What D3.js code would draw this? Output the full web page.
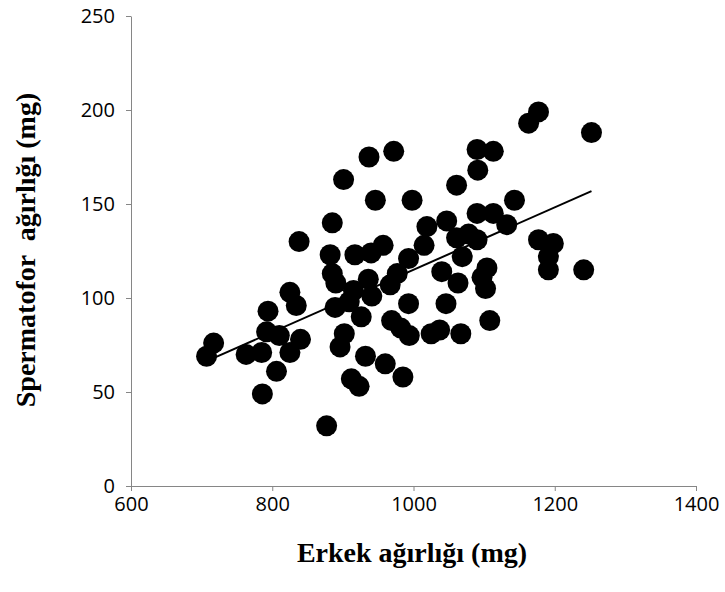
<!DOCTYPE html>
<html>
<head>
<meta charset="utf-8">
<script src="https://cdn.jsdelivr.net/npm/d3@7"></script>
<style>
  body { margin: 0; background: #fff; }
  .axis path, .axis line { stroke: #868686; }
  .axis text { font-family: "Open Sans", sans-serif; font-size: 20px; fill: #000; }
  .title { font-family: "Liberation Serif", "Times New Roman", serif; font-weight: bold; font-size: 28px; white-space: pre; }
</style>
</head>
<body>
<svg id="chart" width="725" height="592"></svg>
<script>
// male weight (mg) and spermatophore weight (mg)
var erkek = [707, 717, 763, 785, 792, 810, 840, 825, 794, 825, 834, 806, 786, 877,
    838, 885, 901, 937, 972, 946, 998, 882, 917, 940, 957, 885, 890, 889, 902, 896,
    915, 909, 936, 941, 926, 932, 960, 985, 912, 923, 977, 967, 993, 1019, 1015, 993,
    969, 982, 994, 1025, 1037, 1046, 1040, 1063, 1067, 1108, 1104, 1097, 1102, 1047,
    1061, 1090, 1113, 1091, 1090, 1113, 1132, 1143, 1061, 1078, 1090, 1069, 1163, 1177,
    1252, 1177, 1198, 1191, 1191, 1241];
var spermatofor = [69, 76, 70, 71, 82, 80, 78, 71, 93, 103, 96, 61, 49, 32,
    130, 140, 163, 175, 178, 152, 152, 123, 123, 124, 128, 113, 108, 95, 81, 74,
    104, 98, 110, 101, 90, 69, 65, 58, 57, 53, 113, 107, 121, 138, 128, 97,
    88, 84, 80, 81, 83, 97, 114, 108, 81, 88, 116, 111, 105, 141,
    160, 179, 178, 168, 145, 145, 139, 152, 132, 134, 131, 122, 193, 199,
    188, 131, 129, 122, 115, 115];
var xTicks = [600, 800, 1000, 1200, 1400];
var yTicks = [0, 50, 100, 150, 200, 250];

var points = erkek.map(function(d, i) { return {x: d, y: spermatofor[i]}; });

var svg = d3.select("#chart");
var padLeft = 131, padRight = 696, padTop = 16, padBottom = 486;

var xScale = d3.scaleLinear().domain([600, 1400]).range([padLeft, padRight]);
var yScale = d3.scaleLinear().domain([0, 250]).range([padBottom, padTop]);

var xAxis = d3.axisBottom(xScale).tickValues(xTicks).tickFormat(d3.format("d"))
    .tickSize(5).tickPadding(6).tickSizeOuter(0);
var yAxis = d3.axisLeft(yScale).tickValues(yTicks).tickFormat(d3.format("d"))
    .tickSize(5).tickPadding(11).tickSizeOuter(0);

//Create X axis
svg.append("g")
    .attr("class", "x axis")
    .attr("transform", "translate(0," + padBottom + ")")
    .call(xAxis);

//Create Y axis
svg.append("g")
    .attr("class", "y axis")
    .attr("transform", "translate(" + padLeft + ",0)")
    .call(yAxis);

//Create circles
svg.selectAll("circle")
    .data(points)
    .enter()
    .append("circle")
    .attr("cx", function(d) { return xScale(d.x); })
    .attr("cy", function(d) { return yScale(d.y); })
    .attr("r", 10.5)
    .attr("fill", "#000");

// linear trendline (least squares), drawn over the data range
var mx = d3.mean(points, function(d) { return d.x; });
var my = d3.mean(points, function(d) { return d.y; });
var sxy = d3.sum(points, function(d) { return (d.x - mx) * (d.y - my); });
var sxx = d3.sum(points, function(d) { return (d.x - mx) * (d.x - mx); });
var slope = sxy / sxx, icpt = my - slope * mx;
var xr = d3.extent(points, function(d) { return d.x; });

svg.append("line")
    .attr("x1", xScale(xr[0]))
    .attr("x2", xScale(xr[1]))
    .attr("y1", yScale(slope * xr[0] + icpt))
    .attr("y2", yScale(slope * xr[1] + icpt))
    .style("stroke", "#000")
    .style("stroke-width", 2);

svg.append("text")
    .attr("class", "title")
    .attr("text-anchor", "middle")
    .attr("x", 412)
    .attr("y", 562)
    .text("Erkek ağırlığı (mg)");

svg.append("text")
    .attr("class", "title")
    .attr("text-anchor", "middle")
    .attr("transform", "translate(35,250) rotate(-90)")
    .text("Spermatofor  ağırlığı (mg)");
</script>
</body>
</html>
